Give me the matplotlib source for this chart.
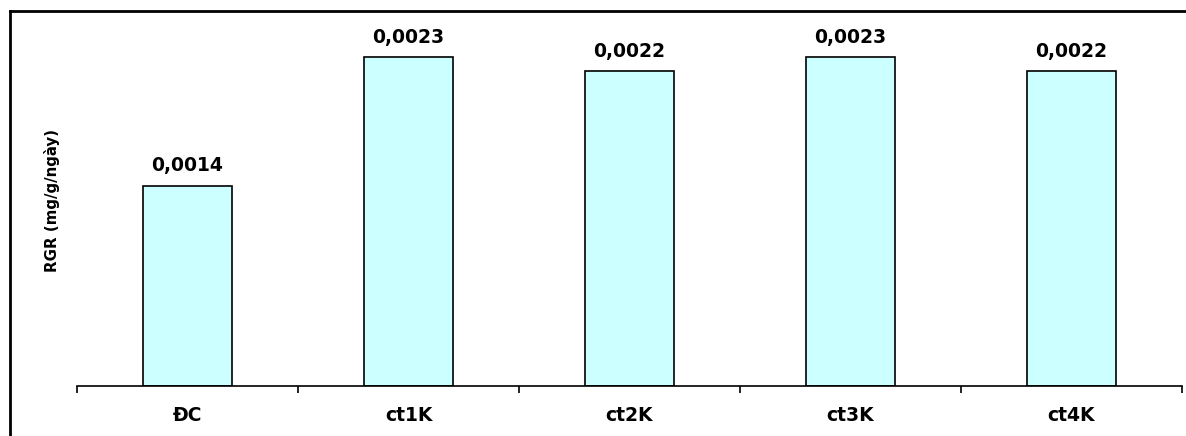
import matplotlib
matplotlib.use("Agg")
import matplotlib.pyplot as plt
from matplotlib.lines import Line2D

categories = ["ĐC", "ct1K", "ct2K", "ct3K", "ct4K"]
rgr_values = [0.0014, 0.0023, 0.0022, 0.0023, 0.0022]
value_labels = ["0,0014", "0,0023", "0,0022", "0,0023", "0,0022"]
y_label = "RGR (mg/g/ngày)"

W, H = 1186, 436
fig = plt.figure(figsize=(W / 100, H / 100), dpi=100)
fig.patch.set_facecolor("white")

# axes placed in pixel terms
left_px, right_px, base_px, top_px = 77, 1182, 386, 28.5
ax = fig.add_axes([left_px / W, (H - base_px) / H,
                   (right_px - left_px) / W, (base_px - top_px) / H])
ax.set_facecolor("none")

x = list(range(len(categories)))
ax.bar(x, rgr_values, width=0.4, color="#ccffff", edgecolor="black",
       linewidth=1.2, zorder=2)

ax.set_xlim(-0.5, len(categories) - 0.5)
ax.set_ylim(0, 0.0025)

for xi, v, lab in zip(x, rgr_values, value_labels):
    ax.annotate(lab, (xi, v), xytext=(0, 7.5), textcoords="offset points",
                ha="center", va="bottom", fontsize=13.5, fontweight="bold",
                family="DejaVu Sans", color="black")

for s in ["top", "right", "left"]:
    ax.spines[s].set_visible(False)
ax.spines["bottom"].set_linewidth(1.2)
ax.spines["bottom"].set_color("black")

# category boundary ticks
ax.set_xticks([i - 0.5 for i in range(len(categories) + 1)])
ax.set_xticklabels([])
ax.tick_params(axis="x", direction="out", length=5, width=1.2, color="black")
ax.set_yticks([])

# category names centred under each bar
for xi, c in zip(x, categories):
    ax.text(xi, -29 / (base_px - top_px), c, transform=ax.get_xaxis_transform(),
            ha="center", va="center", fontsize=13.5, fontweight="bold",
            family="DejaVu Sans")

fig.text(52 / W, 1 - 200 / H, y_label, rotation=90, ha="center", va="center",
         fontsize=10.8, fontweight="bold", family="DejaVu Sans")

# outer frame (left and top edges)
fig.add_artist(Line2D([10 / W, 10 / W], [0, 1 - 11 / H], transform=fig.transFigure,
                      color="black", linewidth=2))
fig.add_artist(Line2D([9.5 / W, 1], [1 - 11.5 / H, 1 - 11.5 / H], transform=fig.transFigure,
                      color="black", linewidth=2))

fig.savefig("out.png", dpi=100, facecolor="white")
